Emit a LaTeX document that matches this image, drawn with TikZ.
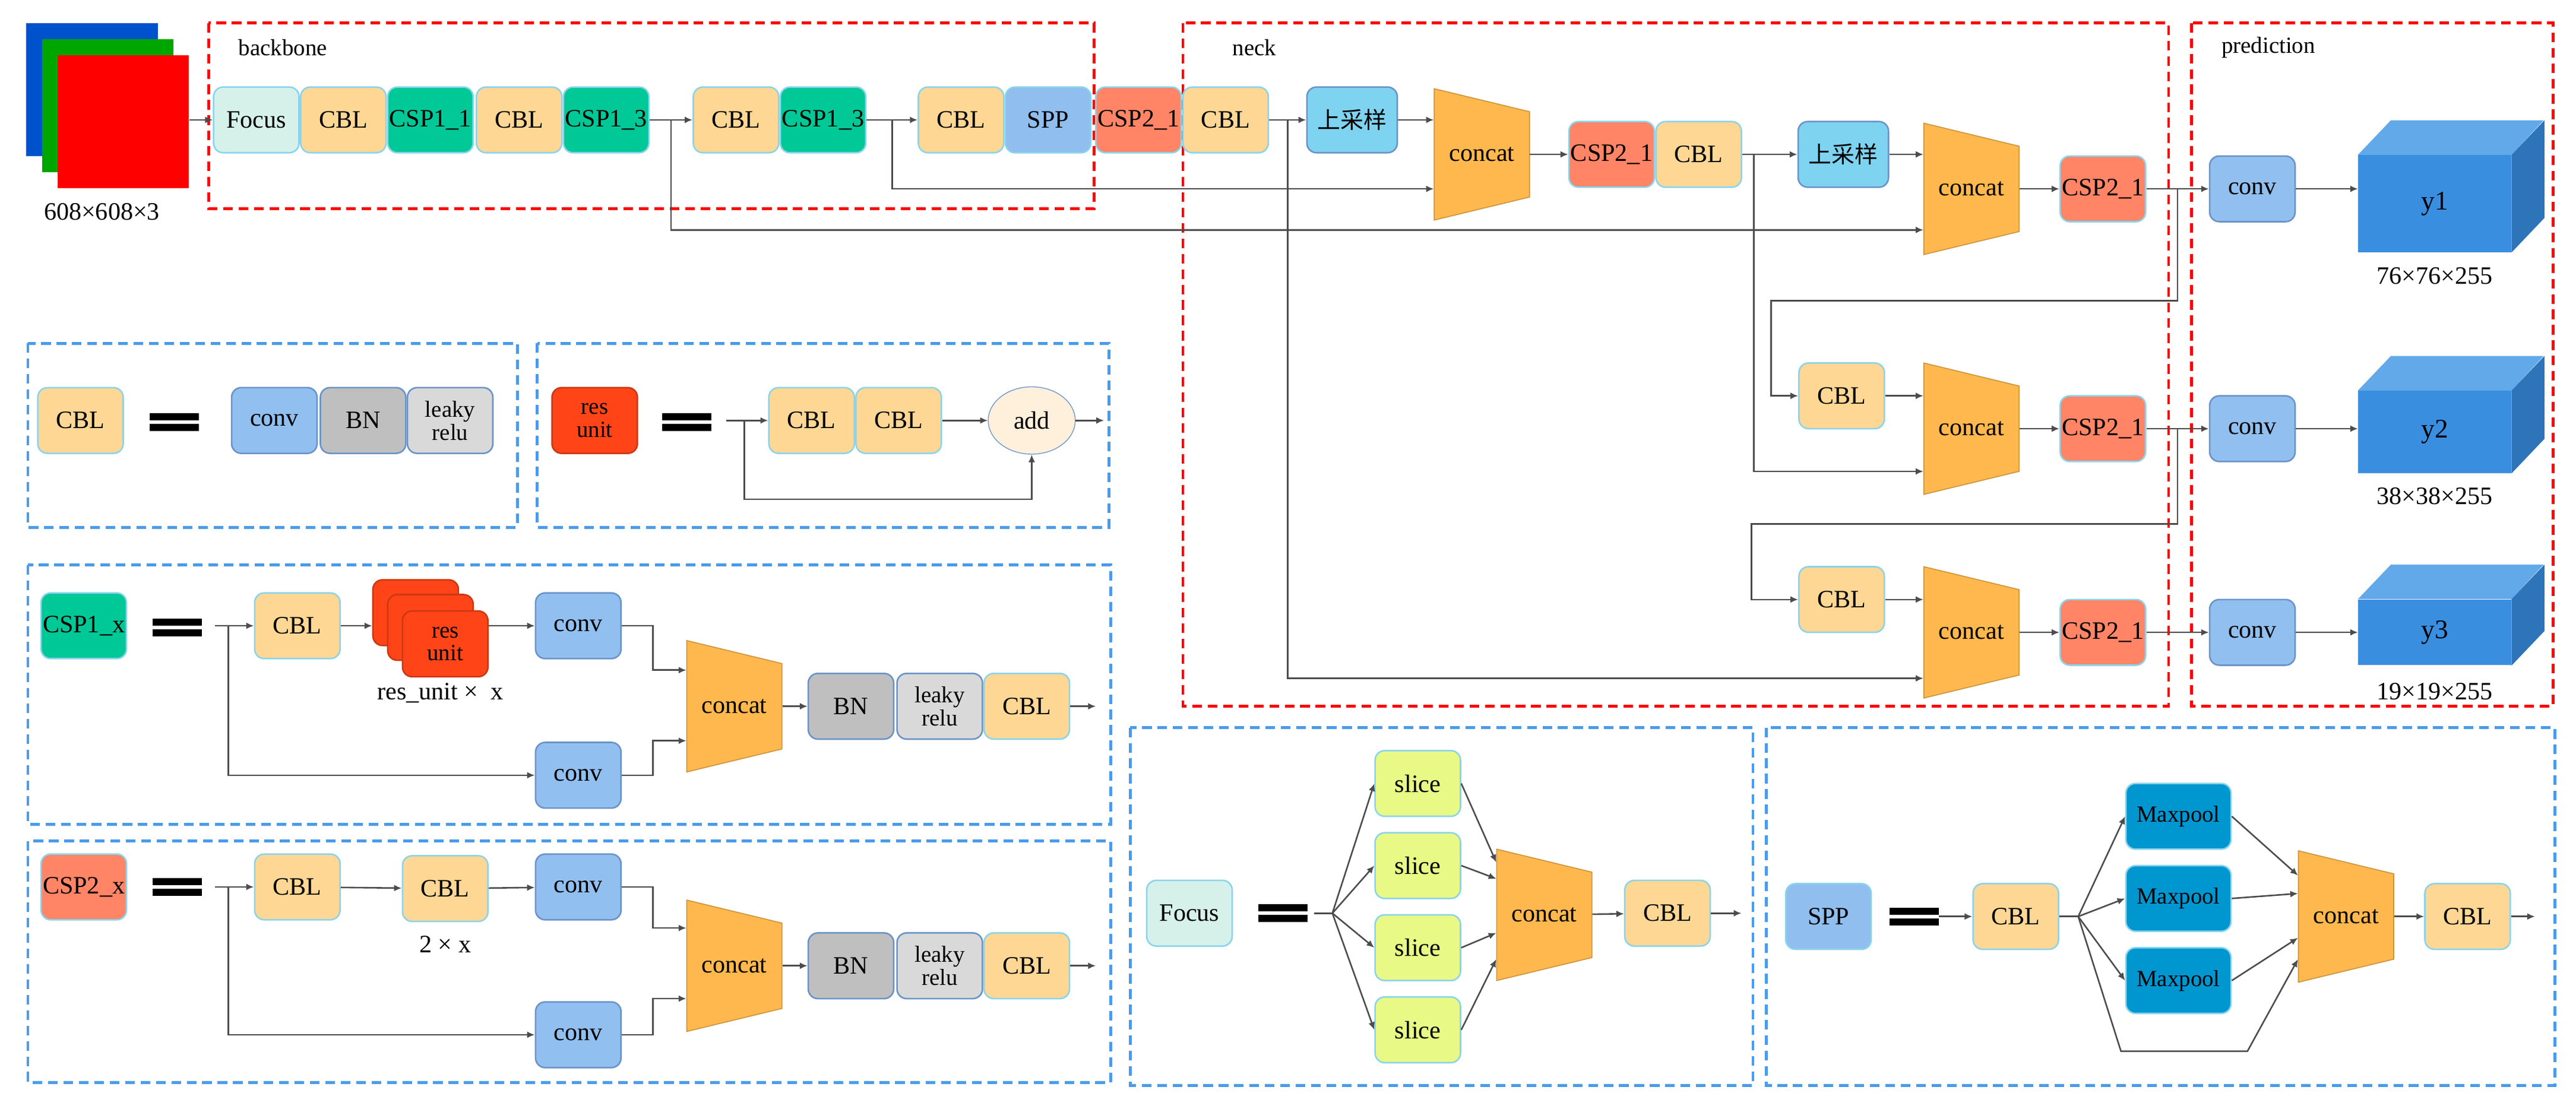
\documentclass[tikz,border=0pt]{standalone}
\usepackage{fontspec}
\setmainfont{Liberation Serif}
\newfontfamily\cjk{Noto Sans CJK SC}
\usetikzlibrary{arrows.meta,calc,shapes.geometric}

\definecolor{cblc}{HTML}{FED795}
\definecolor{cspa}{HTML}{00C896}
\definecolor{cspb}{HTML}{FF8566}
\definecolor{focc}{HTML}{D5F1EA}
\definecolor{sppc}{HTML}{90BEEE}
\definecolor{upc}{HTML}{7ED3F0}
\definecolor{catc}{HTML}{FFB84D}
\definecolor{convc}{HTML}{91BFEF}
\definecolor{bnc}{HTML}{BFBFBF}
\definecolor{lrc}{HTML}{D9D9D9}
\definecolor{resc}{HTML}{FF4518}
\definecolor{addc}{HTML}{FFF0DC}
\definecolor{slcc}{HTML}{E8F985}
\definecolor{mpc}{HTML}{0096D0}
\definecolor{edgea}{HTML}{8AD4EC}
\definecolor{edgeb}{HTML}{6A93C8}
\definecolor{frblue}{HTML}{4A9BEA}
\definecolor{cubef}{HTML}{3A8EE0}
\definecolor{cubet}{HTML}{62A9EA}
\definecolor{cubes}{HTML}{2E74B8}

% equal sign of the small panels
\newcommand{\eqbar}[2]{%
  \fill (#1-15,#2-5.5) rectangle (#1+15,#2-1);
  \fill (#1-15,#2+1) rectangle (#1+15,#2+5.5);}
% concat trapezium with a named node on top
\newcommand{\catbox}[3]{%
  \filldraw[fill=catc, draw=catc!80!black, line width=0.5pt]
    (#2-29,#3-40) -- (#2+29,#3-26) -- (#2+29,#3+26) -- (#2-29,#3+40) -- cycle;
  \node[lbl, minimum width=1.74cm, minimum height=2.4cm] (#1) at (#2,#3) {concat};}
% blue cube of the outputs
\newcommand{\cube}[4]{%
  \node[fill=cubef, minimum width=2.79cm, minimum height=#4*0.03cm, inner sep=0,
        font=\fontsize{14}{15}\selectfont] (#1) at (#2,#3) {#1};
  \fill[cubet] (#1.north west) -- ++(20,-21) -- ++(93,0) -- (#1.north east) -- cycle;
  \fill[cubes] (#1.north east) -- ++(20,-21) -- ($(#1.south east)+(20,-21)$) -- (#1.south east) -- cycle;}

\begin{document}
\begin{tikzpicture}[x=0.03cm, y=-0.03cm,
  lbl/.style={inner sep=0, font=\fontsize{13}{14}\selectfont},
  blk/.style={rounded corners=5pt, minimum width=1.56cm, minimum height=1.2cm, inner sep=0,
              align=center, line width=0.8pt, font=\fontsize{13}{13}\selectfont},
  cbl/.style={blk, fill=cblc, draw=edgea},
  csp1/.style={blk, fill=cspa, draw=edgea},
  csp2/.style={blk, fill=cspb, draw=edgea},
  foc/.style={blk, fill=focc, draw=edgea},
  spp/.style={blk, fill=sppc, draw=edgea},
  ups/.style={blk, fill=upc, draw=edgeb, minimum width=1.65cm, font=\cjk\fontsize{12}{12}\selectfont},
  conv/.style={blk, fill=convc, draw=edgeb},
  bn/.style={blk, fill=bnc, draw=edgeb},
  lr/.style={blk, fill=lrc, draw=edgeb, font=\fontsize{12}{12}\selectfont},
  res/.style={blk, fill=resc, draw=resc!80!black, font=\fontsize{12}{12}\selectfont},
  slc/.style={blk, fill=slcc, draw=edgea},
  mxp/.style={blk, fill=mpc, draw=edgea, minimum width=1.92cm, font=\fontsize{12}{12}\selectfont},
  sq/.style={minimum width=2.4cm, minimum height=2.43cm, inner sep=0},
  arr/.style={-{Latex[length=4pt,width=3.5pt]}, draw=black!70, line width=0.8pt},
  wire/.style={draw=black!70, line width=0.8pt},
  redfrm/.style={draw=red, line width=1.5pt, dash pattern=on 5pt off 3pt},
  bluefrm/.style={draw=frblue, line width=1.5pt, dash pattern=on 5pt off 3pt},
  ttl/.style={anchor=west, inner sep=0, font=\fontsize{12}{12}\selectfont}]
\useasboundingbox (0,0) rectangle (1568,675);

%Frames
\draw[redfrm] (127,14) rectangle (666,127);
\draw[redfrm] (720,14) rectangle (1320,430);
\draw[redfrm] (1334,14) rectangle (1554,430);
\draw[bluefrm] (17,209) rectangle (315,321);
\draw[bluefrm] (327,209) rectangle (675,321);
\draw[bluefrm] (17,344) rectangle (676,502);
\draw[bluefrm] (17,512) rectangle (676,659);
\draw[bluefrm] (688,443) rectangle (1067,661);
\draw[bluefrm] (1075,443) rectangle (1555,661);
\node[ttl] (tb) at (145,29) {backbone};
\node[ttl] (tn) at (750,29) {neck};
\node[ttl] (tp) at (1352,29) {prediction};

%Input
\node[sq, fill=blue!60!cyan!80!black] (inb) at (56,54.5) {};
\node[sq, fill=green!65!black] (ing) at (65.5,64.5) {};
\node[sq, fill=red] (inr) at (75,74) {};
\node[lbl] (insz) at (62,129) {608×608×3};

%Backbone
\node[foc] (bfoc) at (156,73) {Focus};
\node[cbl] (bcbl1) at (209,73) {CBL};
\node[csp1] (bcsp1) at (262,73) {CSP1\_1};
\node[cbl] (bcbl2) at (316,73) {CBL};
\node[csp1] (bcsp2) at (369,73) {CSP1\_3};
\node[cbl] (bcbl3) at (448,73) {CBL};
\node[csp1] (bcsp3) at (501,73) {CSP1\_3};
\node[cbl] (bcbl4) at (585,73) {CBL};
\node[spp] (bspp) at (638,73) {SPP};
\node[csp2] (bcsp4) at (693,73) {CSP2\_1};
\node[cbl] (ncbl1) at (746,73) {CBL};
\draw[arr] (inr.east |- bfoc) -- (bfoc);
\draw[arr] (bcsp2) -- (bcbl3);
\draw[arr] (bcsp3) -- (bcbl4);

%Neck
\node[ups] (nup1) at (823,73) {上采样};
\catbox{ncat1}{902}{94}
\node[csp2] (ncsp1) at (981,94) {CSP2\_1};
\node[cbl] (ncbl2) at (1034,94) {CBL};
\node[ups] (nup2) at (1122,94) {上采样};
\catbox{ncat2}{1200}{115}
\node[csp2] (ncsp2) at (1280,115) {CSP2\_1};
\node[cbl] (ncbl3) at (1121,241) {CBL};
\catbox{ncat3}{1200}{261}
\node[csp2] (ncsp3) at (1280,261) {CSP2\_1};
\node[cbl] (ncbl4) at (1121,365) {CBL};
\catbox{ncat4}{1200}{385}
\node[csp2] (ncsp4) at (1280,385) {CSP2\_1};
\coordinate (lp1) at (1078,183);
\coordinate (lp2) at (1066,319);

\draw[arr] (ncbl1) -- (nup1);
\draw[arr] (nup1) -- (nup1 -| ncat1.west);
\draw[arr] (ncat1) -- (ncsp1);
\draw[arr] (ncbl2) -- (nup2);
\draw[arr] (nup2) -- (nup2 -| ncat2.west);
\draw[arr] (ncat2) -- (ncsp2);
\draw[arr] (ncbl3) -- (ncbl3 -| ncat3.west);
\draw[arr] (ncat3) -- (ncsp3);
\draw[arr] (ncbl4) -- (ncbl4 -| ncat4.west);
\draw[arr] (ncat4) -- (ncsp4);
\draw[arr] ($(bcsp2.east)!.5!(bcbl3.west)$) |- ($(ncat2.west)+(0,25)$);
\draw[arr] ($(bcsp3.east)!.5!(bcbl4.west)$) |- ($(ncat1.west)+(0,21)$);
\draw[arr] ($(ncbl1.east)!.5!(nup1.west)$) |- ($(ncat4.west)+(0,28)$);
\draw[arr] ($(ncbl2.east)+(7,0)$) |- ($(ncat3.west)+(0,26)$);

%Prediction
\node[conv] (pcv1) at (1371,115) {conv};
\node[conv] (pcv2) at (1371,261) {conv};
\node[conv] (pcv3) at (1371,385) {conv};
\cube{y1}{1482}{124}{59}
\cube{y2}{1482}{263}{50}
\cube{y3}{1482}{385}{40}
\node[lbl] (sz1) at (1482,168) {76×76×255};
\node[lbl] (sz2) at (1482,302) {38×38×255};
\node[lbl] (sz3) at (1482,421) {19×19×255};
\draw[arr] (ncsp2) -- (pcv1);
\draw[arr] (ncsp3) -- (pcv2);
\draw[arr] (ncsp4) -- (pcv3);
\draw[arr] (pcv1) -- (pcv1 -| y1.west);
\draw[arr] (pcv2) -- (pcv2 -| y2.west);
\draw[arr] (pcv3) -- (pcv3 -| y3.west);
\draw[arr] ($(ncsp2.east)!.5!(pcv1.west)$) |- (lp1) |- (ncbl3);
\draw[arr] ($(ncsp3.east)!.5!(pcv2.west)$) |- (lp2) |- (ncbl4);

%CBL
\node[cbl] (kcbl) at (49,256) {CBL};
\eqbar{106}{257}
\node[conv] (kcv) at (167,256) {conv};
\node[bn] (kbn) at (221,256) {BN};
\node[lr] (klr) at (274,256) {leaky\\relu};

%res unit
\node[res] (rres) at (362,256) {res\\unit};
\eqbar{418}{257}
\coordinate (rin) at (442,256);
\node[cbl] (rcbl1) at (494,256) {CBL};
\node[cbl] (rcbl2) at (547,256) {CBL};
\node[draw=edgeb, fill=addc, ellipse, minimum width=1.59cm, minimum height=1.23cm, lbl] (radd) at (628,256) {add};
\coordinate (rout) at (672,256);
\draw[arr] (rin) -- (rcbl1);
\draw[arr] (rcbl2) -- (radd);
\draw[arr] (radd) -- (rout);
\draw[arr] ($(rin)+(11,0)$) -- ++(0,48) -| (radd.south);

%CSP1_x
\node[csp1] (acsp) at (51,381) {CSP1\_x};
\eqbar{108}{382}
\coordinate (ain) at (131,381);
\node[cbl] (acbl) at (181,381) {CBL};
\node[res] (ares1) at (253,373) {};
\node[res] (ares2) at (262,382) {};
\node[res] (ares3) at (271,392) {res\\unit};
\node[lbl] (anum) at (268,422) {res\_unit × \ x};
\node[conv] (acv1) at (352,381) {conv};
\node[conv] (acv2) at (352,472) {conv};
\catbox{acat}{447}{430}
\node[bn] (abn) at (518,430) {BN};
\node[lr] (alr) at (572,430) {leaky\\relu};
\node[cbl] (acbl2) at (625,430) {CBL};
\coordinate (aout) at (667,430);
\draw[arr] (ain) -- (acbl);
\draw[arr] (acbl) -- (acbl -| ares1.west);
\draw[arr] (ares3.east |- acv1) -- (acv1);
\draw[arr] ($(ain)+(8,0)$) |- (acv2);
\draw[arr] (acv1.east) -- ++(19,0) |- ($(acat.west)+(0,-22)$);
\draw[arr] (acv2.east) -- ++(19,0) |- ($(acat.west)+(0,21)$);
\draw[arr] (acat) -- (abn);
\draw[arr] (acbl2) -- (aout);

%CSP2_x
\node[csp2] (ccsp) at (51,540) {CSP2\_x};
\eqbar{108}{540}
\coordinate (cin) at (131,540);
\node[cbl] (ccbl1) at (181,540) {CBL};
\node[cbl] (ccbl2) at (271,541) {CBL};
\node[lbl] (cnum) at (271,575) {2 × x};
\node[conv] (ccv1) at (352,540) {conv};
\node[conv] (ccv2) at (352,630) {conv};
\catbox{ccat}{447}{588}
\node[bn] (cbn) at (518,588) {BN};
\node[lr] (clr) at (572,588) {leaky\\relu};
\node[cbl] (ccbl3) at (625,588) {CBL};
\coordinate (cout) at (667,588);
\draw[arr] (cin) -- (ccbl1);
\draw[arr] (ccbl1) -- (ccbl2);
\draw[arr] (ccbl2) -- (ccv1);
\draw[arr] ($(cin)+(8,0)$) |- (ccv2);
\draw[arr] (ccv1.east) -- ++(19,0) |- ($(ccat.west)+(0,-23)$);
\draw[arr] (ccv2.east) -- ++(19,0) |- ($(ccat.west)+(0,20)$);
\draw[arr] (ccat) -- (cbn);
\draw[arr] (ccbl3) -- (cout);

%Focus
\node[foc] (ffoc) at (724,556) {Focus};
\eqbar{781}{556}
\coordinate (fin) at (800,556);
\coordinate (ffan) at (811,556);
\node[slc] (fs1) at (863,477) {slice};
\node[slc] (fs2) at (863,527) {slice};
\node[slc] (fs3) at (863,577) {slice};
\node[slc] (fs4) at (863,627) {slice};
\catbox{fcat}{940}{557}
\node[cbl] (fcbl) at (1015,556) {CBL};
\coordinate (fout) at (1060,556);
\draw[wire] (fin) -- (ffan);
\foreach \s in {fs1,fs2,fs3,fs4}
  \draw[arr] (ffan) -- (\s.west);
\draw[arr] (fs1.east) -- ($(fcat.west)+(0,-32)$);
\draw[arr] (fs2.east) -- ($(fcat.west)+(0,-22)$);
\draw[arr] (fs3.east) -- ($(fcat.west)+(0,11)$);
\draw[arr] (fs4.east) -- ($(fcat.west)+(0,27)$);
\draw[arr] (fcat) -- (fcbl);
\draw[arr] (fcbl) -- (fout);

%SPP
\node[spp] (sspp) at (1113,558) {SPP};
\eqbar{1165}{558}
\coordinate (sin) at (1180,558);
\node[cbl] (scbl1) at (1227,558) {CBL};
\coordinate (sfan) at (1265,558);
\node[mxp] (smp1) at (1326,497) {Maxpool};
\node[mxp] (smp2) at (1326,547) {Maxpool};
\node[mxp] (smp3) at (1326,597) {Maxpool};
\coordinate (sbp1) at (1291,640);
\coordinate (sbp2) at (1368,640);
\catbox{scat}{1428}{558}
\node[cbl] (scbl2) at (1502,558) {CBL};
\coordinate (sout) at (1543,558);
\draw[arr] (sin) -- (scbl1);
\draw[wire] (scbl1) -- (sfan);
\foreach \s in {smp1,smp2,smp3}
  \draw[arr] (sfan) -- (\s.west);
\draw[arr] (smp1.east) -- ($(scat.west)+(0,-25)$);
\draw[arr] (smp2.east) -- ($(scat.west)+(0,-14)$);
\draw[arr] (smp3.east) -- ($(scat.west)+(0,13)$);
\draw[arr] (sfan) -- (sbp1) -- (sbp2) -- ($(scat.west)+(0,26)$);
\draw[arr] (scat) -- (scbl2);
\draw[arr] (scbl2) -- (sout);

\end{tikzpicture}
\end{document}
